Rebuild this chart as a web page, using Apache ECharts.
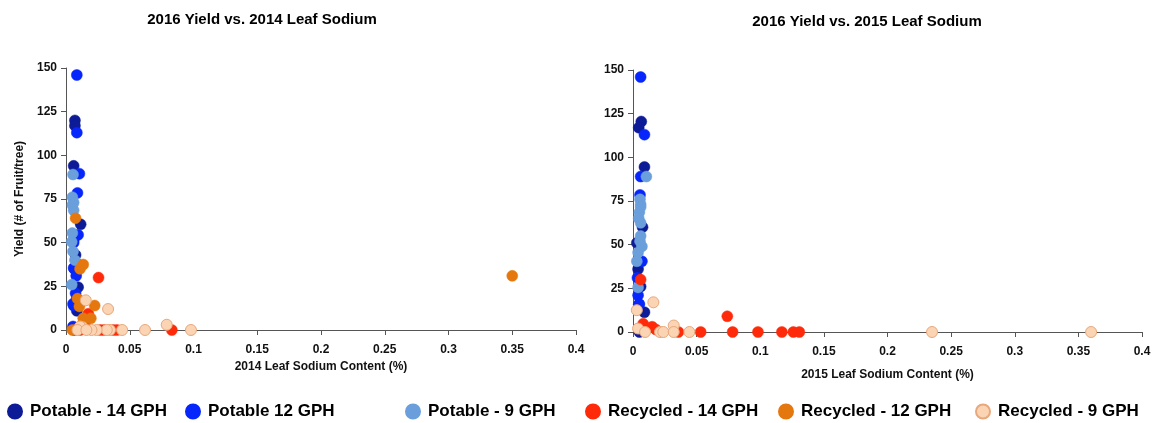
<!DOCTYPE html>
<html>
<head>
<meta charset="utf-8">
<script src="https://cdn.jsdelivr.net/npm/echarts@6/dist/echarts.min.js"></script>
<style>
html,body{margin:0;padding:0;background:#fff;}
#c{width:1165px;height:423px;}
</style>
</head>
<body>
<div id="c"></div>
<script>
// ---- Data (x = leaf sodium %, y = yield fruit/tree) ----
const seriesNames = ['Potable - 14 GPH','Potable 12 GPH','Potable - 9 GPH','Recycled - 14 GPH','Recycled - 12 GPH','Recycled - 9 GPH'];
const titles = ['2016 Yield vs. 2014 Leaf Sodium','2016 Yield vs. 2015 Leaf Sodium'];
const xNames = ['2014 Leaf Sodium Content (%)','2015 Leaf Sodium Content (%)'];
const yName = 'Yield (# of Fruit/tree)';

// 2014 leaf sodium
const p14_2014 = [[0.0070,120],[0.0070,117],[0.0060,94],[0.0115,60.5],[0.0060,51.5],[0.0075,43],[0.0095,37.5],[0.0065,35],[0.0095,24.5],[0.0085,18],[0.0090,15.5],[0.0085,11],[0.0060,0.5]];
const p12_2014 = [[0.0085,146],[0.0085,113],[0.0105,89.5],[0.0090,78.5],[0.0095,54.5],[0.0060,50],[0.0060,35.5],[0.0080,31],[0.0075,21],[0.0055,15],[0.0060,14],[0.0055,2],[0.0065,0]];
const p9_2014  = [[0.0055,89],[0.0050,76],[0.0060,73],[0.0050,71.5],[0.0060,68.5],[0.0050,55.5],[0.0045,50.5],[0.0055,45],[0.0070,40],[0.0045,26]];
const r14_2014 = [[0.0255,30],[0.0175,9.3],[0.0150,3],[0.0085,0.5],[0.0110,0],[0.0270,0],[0.0300,0],[0.0370,0],[0.0400,0],[0.0830,0]];
const r12_2014 = [[0.3500,31],[0.0075,64],[0.0135,37.5],[0.0110,35],[0.0090,18],[0.0105,13.5],[0.0225,14],[0.0135,6.7],[0.0195,6.7],[0.0125,3],[0.0050,0],[0.0160,0.5]];
const r9_2014  = [[0.0155,17],[0.0330,12],[0.0790,3],[0.0980,0],[0.0620,0],[0.0440,0],[0.0345,0],[0.0320,0],[0.0240,0],[0.0200,0],[0.0130,1.6],[0.0110,2],[0.0090,0],[0.0160,0]];

// 2015 leaf sodium
const p14_2015 = [[0.0065,120.5],[0.0045,117],[0.0090,94.5],[0.0075,60],[0.0030,51],[0.0040,36],[0.0060,26],[0.0090,11.3],[0.0050,0]];
const p12_2015 = [[0.0060,146],[0.0090,113],[0.0060,89],[0.0055,78.5],[0.0070,40.5],[0.0035,31],[0.0040,21],[0.0045,15.7],[0.0050,16]];
const p9_2015  = [[0.0105,89],[0.0055,76],[0.0060,73],[0.0060,71.5],[0.0050,68.5],[0.0045,65],[0.0060,62.5],[0.0060,55],[0.0055,52],[0.0070,49],[0.0040,45.5],[0.0030,40.5],[0.0040,25.5]];
const r14_2015 = [[0.0060,30],[0.0741,9],[0.0080,4.7],[0.0150,3],[0.0180,1.4],[0.0356,0],[0.0532,0],[0.0783,0],[0.0982,0],[0.1170,0],[0.1260,0],[0.1307,0]];
const r12_2015 = [];
const r9_2015  = [[0.0160,17],[0.0030,12.5],[0.0040,2],[0.0095,0],[0.0212,0],[0.0238,0],[0.0320,3.7],[0.0320,0],[0.0443,0],[0.2350,0],[0.3600,0]];

const xTicks = {min:0, max:0.4, interval:0.05};
const yTicks = {min:0, max:150, interval:25};

// ---- Styles ----
const colors = ['#0d1b96','#0626fb','#6a9fdc','#ff2a0a','#e4780f','#fbd4b4'];
const borders = ['#0d1b96','#0626fb','#6a9fdc','#ff2a0a','#e4780f','#e8a87c'];
const FONT = '"Liberation Sans", Arial, sans-serif';

const data2014 = [p14_2014,p12_2014,p9_2014,r14_2014,r12_2014,r9_2014];
const data2015 = [p14_2015,p12_2015,p9_2015,r14_2015,r12_2015,r9_2015];

function xAxis(i, gap){
  return {
    type:'value', gridIndex:i, min:xTicks.min, max:xTicks.max, interval:xTicks.interval,
    name:xNames[i], nameLocation:'middle', nameGap:gap,
    nameTextStyle:{fontFamily:FONT, fontSize:12, fontWeight:'bold', color:'#111'},
    axisLine:{show:true, onZero:false, lineStyle:{color:'#555', width:1}},
    axisTick:{show:true, inside:false, length:5, lineStyle:{color:'#555'}},
    axisLabel:{fontFamily:FONT, fontSize:12, fontWeight:'bold', color:'#111', margin:14},
    splitLine:{show:false}
  };
}
function yAxis(i, withName){
  return {
    type:'value', gridIndex:i, min:yTicks.min, max:yTicks.max, interval:yTicks.interval,
    name: withName ? yName : '', nameLocation:'middle', nameGap:40,
    nameTextStyle:{fontFamily:FONT, fontSize:12, fontWeight:'bold', color:'#111'},
    axisLine:{show:true, lineStyle:{color:'#555', width:1}},
    axisTick:{show:true, inside:false, length:5, lineStyle:{color:'#555'}},
    axisLabel:{fontFamily:FONT, fontSize:12, fontWeight:'bold', color:'#111', margin:9},
    splitLine:{show:false}
  };
}

const series = [];
[data2014, data2015].forEach((set, gi) => {
  set.forEach((d, si) => {
    series.push({
      type:'scatter', name:seriesNames[si], xAxisIndex:gi, yAxisIndex:gi,
      data:d, symbol:'circle', symbolSize:11,
      itemStyle:{color:colors[si], borderColor:borders[si], borderWidth: si===5 ? 1 : 0.5, opacity:1},
      z: 2 + si
    });
  });
});

const legendX = [12,190,410,590,783,980];
const legends = seriesNames.map((n,i)=>({
  data:[n], left: legendX[i]-10, top: 398, orient:'horizontal',
  icon:'circle', itemWidth:20, itemHeight:14, itemGap:0,
  textStyle:{fontFamily:FONT, fontSize:17, fontWeight:'bold', color:'#000', padding:[0,0,0,0]},
  selectedMode:false
}));

const chart = echarts.init(document.getElementById('c'), null, {renderer:'canvas'});
chart.setOption({
  animation:false,
  backgroundColor:'#fff',
  title:[
    {text:titles[0], left:257, top:7, textAlign:'center', textStyle:{fontFamily:FONT, fontSize:15, fontWeight:'bold', color:'#000'}},
    {text:titles[1], left:862, top:9, textAlign:'center', textStyle:{fontFamily:FONT, fontSize:15, fontWeight:'bold', color:'#000'}}
  ],
  legend: legends,
  grid:[
    {left:66, right:589, top:68, bottom:93},
    {left:633, right:23, top:70, bottom:91}
  ],
  xAxis:[xAxis(0,31), xAxis(1,37)],
  yAxis:[yAxis(0,true), yAxis(1,false)],
  series: series
});
</script>
</body>
</html>
